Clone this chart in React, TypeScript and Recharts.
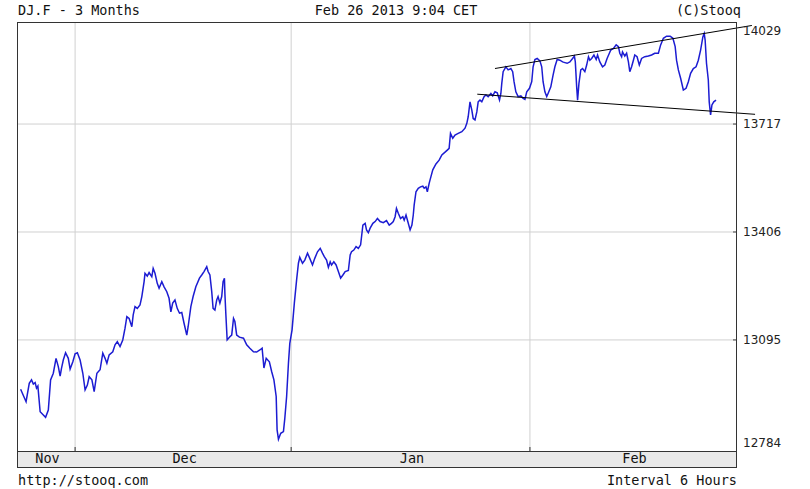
import React from 'react';
import { LineChart, Line, XAxis, YAxis, CartesianGrid, ReferenceLine } from 'recharts';

// trading hours since the first 6h bar (Nov 26 2012)
const hours = [
  8, 20, 27, 32, 36, 40, 43, 46, 51, 58, 63, 69, 74, 80, 86, 91, 95, 98, 102, 107,
  113, 117, 123, 128, 133, 139, 145, 150, 155, 159, 165, 170, 176, 183, 189, 194, 198, 203, 211, 216,
  221, 227, 233, 238, 242, 247, 253, 256, 260, 265, 271, 275, 280, 282, 287, 291, 297, 300, 304, 309,
  313, 319, 324, 330, 335, 339, 343, 348, 353, 358, 363, 368, 374, 377, 383, 388, 394, 402, 407, 412,
  418, 421, 425, 429, 432, 436, 440, 443, 447, 451, 454, 457, 458, 460, 463, 469, 473, 477, 480, 484,
  490, 499, 506, 513, 521, 528, 535, 540, 544, 549, 556, 561, 566, 571, 573, 576, 581, 587, 590, 594,
  598, 601, 606, 611, 616, 620, 623, 629, 634, 640, 645, 651, 656, 662, 668, 673, 677, 682, 686, 690,
  693, 698, 703, 708, 713, 718, 723, 730, 734, 737, 742, 747, 752, 757, 762, 767, 770, 774, 778, 784,
  789, 794, 800, 807, 814, 820, 825, 829, 833, 836, 840, 845, 850, 853, 857, 862, 866, 870, 873, 875,
  879, 884, 889, 894, 897, 901, 904, 908, 910, 916, 923, 930, 936, 943, 948, 952, 955, 960, 965, 972,
  980, 987, 991, 994, 998, 1002, 1005, 1009, 1013, 1016, 1020, 1024, 1029, 1033, 1038, 1044, 1048, 1053, 1058, 1063,
  1066, 1068, 1071, 1077, 1082, 1088, 1092, 1095, 1099, 1104, 1110, 1115, 1119, 1123, 1129, 1134, 1137, 1141, 1146, 1152,
  1156, 1159, 1163, 1167, 1170, 1176, 1181, 1185, 1190, 1196, 1202, 1207, 1212, 1218, 1224, 1228, 1230, 1233, 1235, 1238,
  1242, 1246, 1251, 1255, 1259, 1262, 1266, 1271, 1276, 1279, 1284, 1290, 1295, 1300, 1305, 1308, 1314, 1320, 1325, 1328,
  1332, 1334, 1339, 1343, 1347, 1350, 1354, 1358, 1361, 1366, 1371, 1376, 1383, 1391, 1398, 1405, 1413, 1418, 1424, 1431,
  1439, 1445, 1450, 1453, 1457, 1462, 1468, 1474, 1479, 1484, 1490, 1496, 1501, 1506, 1511, 1514, 1516, 1519, 1523, 1525,
  1528, 1531, 1535, 1540,
];

const closes = [
  12953, 12917, 12970, 12980, 12968, 12972, 12956, 12962, 12888, 12879, 12872, 12893, 12980, 12999, 13042, 13018, 12991, 13013, 13037, 13058,
  13042, 13011, 13032, 13055, 13058, 13037, 12999, 12951, 12965, 12989, 12980, 12946, 12999, 13009, 13057, 13042, 13028, 13052, 13061, 13081,
  13090, 13076, 13095, 13129, 13162, 13157, 13133, 13167, 13191, 13186, 13196, 13220, 13263, 13287, 13279, 13289, 13277, 13301, 13287, 13258,
  13244, 13263, 13248, 13234, 13215, 13176, 13201, 13210, 13186, 13172, 13174, 13143, 13109, 13133, 13191, 13220, 13248, 13273, 13282, 13292,
  13306, 13292, 13282, 13234, 13186, 13181, 13210, 13220, 13201, 13220, 13263, 13273, 13229, 13172, 13095, 13104, 13109, 13157, 13148, 13109,
  13103, 13100, 13081, 13071, 13061, 13060, 13066, 13071, 13014, 13042, 13032, 13004, 12980, 12932, 12836, 12809, 12826, 12831, 12869, 12932,
  13028, 13085, 13124, 13201, 13268, 13316, 13333, 13316, 13325, 13345, 13330, 13311, 13330, 13349, 13359, 13345, 13335, 13325, 13304, 13320,
  13311, 13320, 13311, 13292, 13273, 13282, 13292, 13295, 13340, 13349, 13354, 13364, 13359, 13369, 13426, 13431, 13412, 13404, 13417, 13431,
  13436, 13445, 13436, 13433, 13439, 13426, 13431, 13436, 13450, 13474, 13460, 13445, 13450, 13440, 13455, 13431, 13412, 13426, 13455, 13484,
  13522, 13532, 13536, 13538, 13532, 13536, 13522, 13546, 13556, 13585, 13602, 13613, 13628, 13636, 13642, 13647, 13690, 13676, 13685, 13690,
  13695, 13705, 13719, 13738, 13781, 13757, 13733, 13729, 13752, 13781, 13786, 13781, 13796, 13801, 13796, 13805, 13798, 13810, 13807, 13786,
  13805, 13834, 13868, 13882, 13873, 13877, 13868, 13839, 13810, 13796, 13798, 13791, 13788, 13810, 13820, 13839, 13882, 13903, 13906, 13899,
  13882, 13839, 13810, 13796, 13805, 13824, 13858, 13882, 13903, 13901, 13896, 13894, 13892, 13896, 13906, 13913, 13896, 13824, 13786, 13834,
  13873, 13877, 13868, 13887, 13911, 13901, 13906, 13916, 13903, 13916, 13896, 13882, 13887, 13906, 13921, 13930, 13935, 13945, 13940, 13921,
  13911, 13925, 13913, 13921, 13896, 13868, 13882, 13901, 13916, 13911, 13887, 13906, 13911, 13913, 13916, 13921, 13921, 13945, 13964, 13970,
  13970, 13964, 13940, 13901, 13873, 13849, 13815, 13820, 13839, 13863, 13877, 13882, 13901, 13930, 13968, 13978, 13959, 13892, 13844, 13781,
  13743, 13772, 13781, 13786,
];

const monthNames = ['Nov', 'Dec', 'Jan', 'Feb'];
const monthStarts = [128, 604, 1130];
const lastHour = 1584;

const priceTicks = [12784, 13095, 13406, 13717, 14029];
const gridPrices = [13095, 13406, 13717];

// hand drawn channel
const upperHours = [1053, 1619];
const upperPrices = [13877, 14001];
const lowerHours = [1014, 1626];
const lowerPrices = [13803, 13745];

const bars = hours.map((h, i) => ({ h, close: closes[i] }));
const bounds = [0, ...monthStarts, lastHour];
const monthMids = monthNames.map((_, i) => (bounds[i] + bounds[i + 1]) / 2);
const xTicks = [...monthStarts, ...monthMids].sort((a, b) => a - b);

const mono = '"DejaVu Sans Mono", monospace';
const PLOT_TOP = 22;
const PLOT_BOTTOM = 451;

const MonthTick = (props: any) => {
  const { x, y, payload } = props;
  if (monthStarts.includes(payload.value)) {
    return <line x1={x} x2={x} y1={y - 4} y2={y} stroke="#333" strokeWidth={1} />;
  }
  const name = monthNames[monthMids.indexOf(payload.value)];
  return (
    <text x={x + 1.5} y={y + 12} textAnchor="middle" fontFamily={mono} fontSize={13.5} fill="#111">
      {name}
    </text>
  );
};

const PriceTick = (props: any) => {
  const { x, y, payload } = props;
  const edge = x - 7;
  const inside = y > PLOT_TOP + 2 && y < PLOT_BOTTOM - 5;
  const ly = Math.min(Math.max(y, PLOT_TOP + 9), PLOT_BOTTOM - 8);
  return (
    <g>
      {inside && <line x1={edge - 3} x2={edge} y1={y} y2={y} stroke="#444" strokeWidth={1} />}
      <text x={x} y={ly} dy="0.36em" textAnchor="start" fontFamily='"DejaVu Sans", sans-serif' fontSize={12} fill="#222">
        {payload.value}
      </text>
    </g>
  );
};

export default function App() {
  return (
    <div style={{ position: 'absolute', left: 0, top: 0, width: 810, height: 489, background: '#fff', overflow: 'hidden' }}>
      <div style={{ position: 'absolute', left: 17, top: 451, width: 720, height: 17, background: '#e9e9e9', boxSizing: 'border-box' }} />
      <div style={{ position: 'absolute', left: 0, top: 0 }}>
        <LineChart width={810} height={489} data={bars} margin={{ top: 22, right: 0, bottom: 22, left: 17 }}>
          <CartesianGrid stroke="#d0d0d0" verticalValues={monthStarts} horizontalValues={gridPrices} />
          <XAxis
            dataKey="h"
            type="number"
            domain={[0, lastHour]}
            ticks={xTicks}
            interval={0}
            height={16}
            axisLine={false}
            tickLine={false}
            tickSize={0}
            tickMargin={0}
            tick={<MonthTick />}
          />
          <YAxis
            orientation="right"
            type="number"
            domain={[12775, 14011]}
            allowDataOverflow
            ticks={priceTicks}
            interval={0}
            width={74}
            axisLine={false}
            tickLine={false}
            tickSize={0}
            tickMargin={7}
            tick={<PriceTick />}
          />
          <Line type="linear" dataKey="close" stroke="#1c1cd2" strokeWidth={1.5} dot={false} isAnimationActive={false} />
          <ReferenceLine
            segment={[{ x: upperHours[0], y: upperPrices[0] }, { x: upperHours[1], y: upperPrices[1] }]}
            stroke="#000"
            strokeWidth={1}
            ifOverflow="visible"
          />
          <ReferenceLine
            segment={[{ x: lowerHours[0], y: lowerPrices[0] }, { x: lowerHours[1], y: lowerPrices[1] }]}
            stroke="#000"
            strokeWidth={1}
            ifOverflow="visible"
          />
        </LineChart>
      </div>
      <div style={{ position: 'absolute', left: 17, top: 22, width: 720, height: 446, border: '1px solid #333', boxSizing: 'border-box', pointerEvents: 'none' }} />
      <div style={{ position: 'absolute', left: 17, top: 451, width: 720, height: 1, background: '#333' }} />
      <svg width={810} height={489} style={{ position: 'absolute', left: 0, top: 0, pointerEvents: 'none' }}>
        <g fontFamily={mono} fontSize={13.5} fill="#111">
          <text x={18} y={15}>DJ.F - 3 Months</text>
          <text x={396} y={15} textAnchor="middle">Feb 26 2013 9:04 CET</text>
          <text x={741} y={15} textAnchor="end">(C)Stooq</text>
          <text x={18} y={485}>http://stooq.com</text>
          <text x={737} y={485} textAnchor="end">Interval 6 Hours</text>
        </g>
      </svg>
    </div>
  );
}
